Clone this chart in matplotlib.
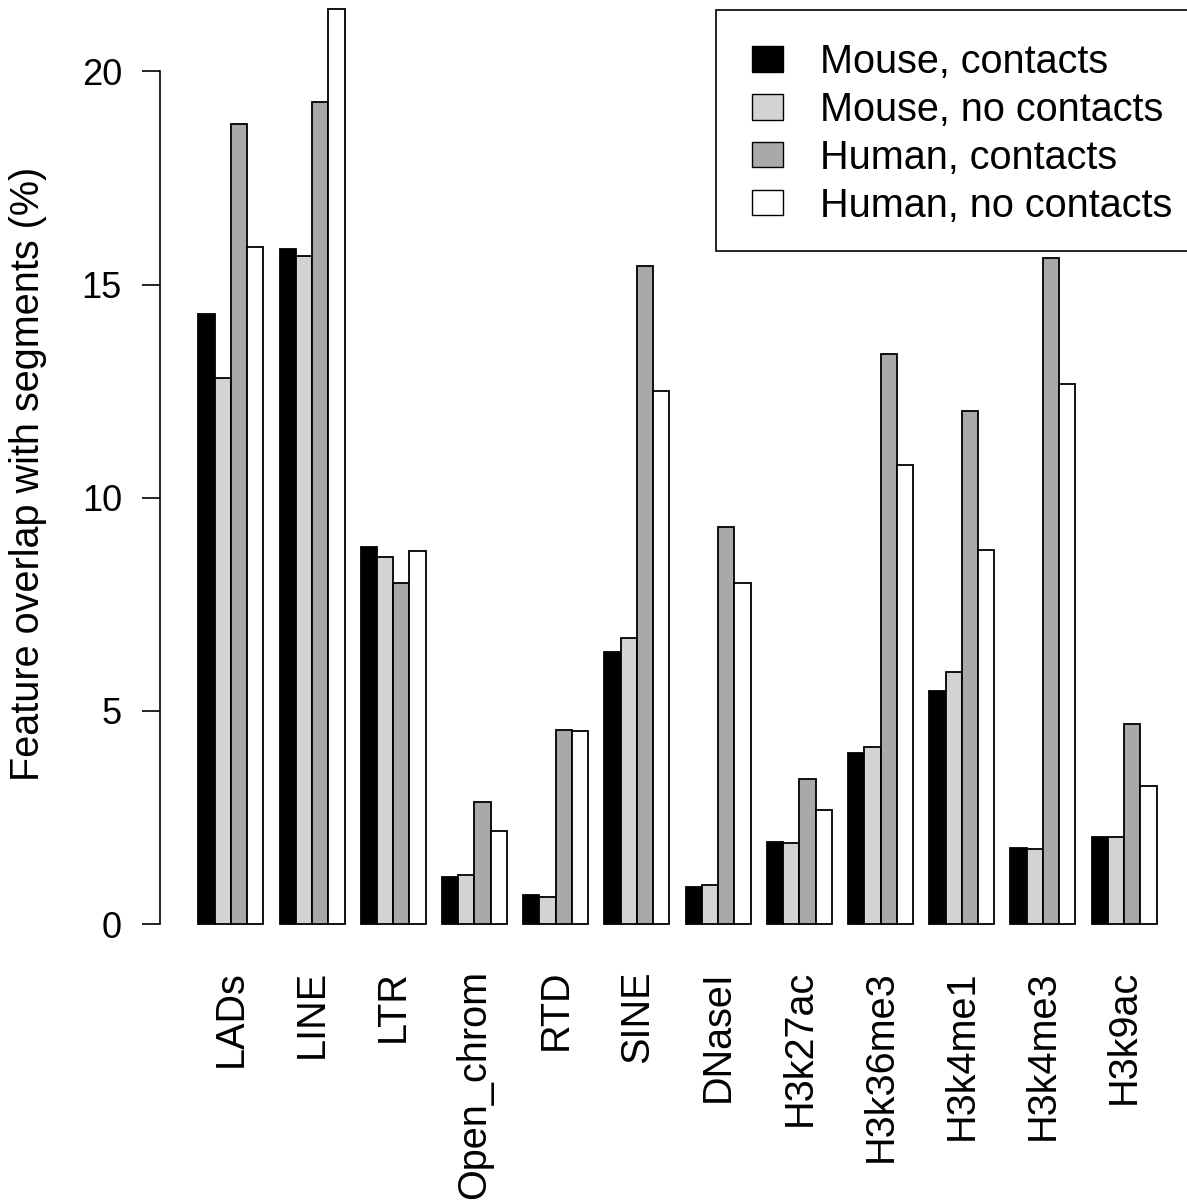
import matplotlib
matplotlib.use("Agg")
import matplotlib.pyplot as plt
from matplotlib.patches import Patch, Rectangle
import numpy as np

categories = ["LADs", "LINE", "LTR", "Open_chrom", "RTD", "SINE", "DNaseI",
              "H3k27ac", "H3k36me3", "H3k4me1", "H3k4me3", "H3k9ac"]
series_names = ["Mouse, contacts", "Mouse, no contacts",
                "Human, contacts", "Human, no contacts"]
mouse_contacts = [14.30, 15.84, 8.85, 1.10, 0.67, 6.37, 0.86, 1.93, 4.02, 5.47, 1.79, 2.03]
mouse_no_contacts = [12.82, 15.66, 8.61, 1.15, 0.64, 6.72, 0.91, 1.90, 4.15, 5.91, 1.76, 2.03]
human_contacts = [18.76, 19.29, 7.99, 2.86, 4.55, 15.43, 9.32, 3.41, 13.38, 12.04, 15.63, 4.69]
human_no_contacts = [15.88, 21.46, 8.76, 2.19, 4.53, 12.51, 8.01, 2.67, 10.77, 8.78, 12.66, 3.23]
series = [mouse_contacts, mouse_no_contacts, human_contacts, human_no_contacts]
colors = ["#000000", "#D3D3D3", "#A9A9A9", "#FFFFFF"]
yticks = [0, 5, 10, 15, 20]

W, H = 1187, 1202
DPI = 100
PX = 72.0 / DPI  # points per pixel
fig = plt.figure(figsize=(W / DPI, H / DPI), dpi=DPI)
plt.rcParams['font.family'] = ['Liberation Sans', 'DejaVu Sans']

TEXT_PT = 28.5
TICK_PT = 26

# R-like plot region in pixels
left_px, right_px = 160, 1195
top_px, bottom_px = -27.4, 960.6
ax = fig.add_axes([left_px / W, 1 - bottom_px / H,
                   (right_px - left_px) / W, (bottom_px - top_px) / H])

n = len(categories)
ymax = max(max(s) for s in series)
xl, xr = 1, 5 * n
ax.set_xlim(xl - 0.04 * (xr - xl), xr + 0.04 * (xr - xl))
ax.set_ylim(-0.04 * ymax, ymax * 1.04)

for j, (vals, col) in enumerate(zip(series, colors)):
    lefts = [1 + 5 * g + j for g in range(n)]
    ax.bar(lefts, vals, width=1, align='edge', color=col,
           edgecolor='black', linewidth=1.3, zorder=2)

for s in ['top', 'right', 'bottom']:
    ax.spines[s].set_visible(False)
ax.spines['left'].set_bounds(0, 20)
ax.spines['left'].set_linewidth(1.2)
ax.set_yticks(yticks)
ax.set_yticklabels([str(t) for t in yticks])
ax.tick_params(axis='y', length=18 * PX, width=1.2, pad=20 * PX, labelsize=TICK_PT)

centers = [3 + 5 * g for g in range(n)]
ax.set_xticks(centers)
ax.set_xticklabels(categories, rotation=90, fontsize=TEXT_PT)
ax.tick_params(axis='x', length=0, pad=(970 - bottom_px) * PX)

fig.text(28 / W, 1 - 474 / H, "Feature overlap with segments (%)",
         rotation=90, ha='center', va='center', fontsize=TEXT_PT)

# legend box (R style, extends to plot region edge)
fig.add_artist(Rectangle((716 / W, 1 - 251 / H), (right_px - 716) / W, (251 - 10) / H,
                         transform=fig.transFigure, facecolor='white',
                         edgecolor='black', linewidth=1.2, zorder=5))
fs_px = TEXT_PT / PX
handles = [Patch(facecolor=c, edgecolor='black', linewidth=1.0) for c in colors]
leg = fig.legend(handles, series_names, loc='upper left',
                 bbox_to_anchor=(752 / W, 1 - 43 / H), fontsize=TEXT_PT,
                 frameon=False, borderpad=0,
                 handlelength=31 / fs_px, handleheight=24 / fs_px,
                 handletextpad=37 / fs_px,
                 labelspacing=0.25, borderaxespad=0)
leg.set_zorder(6)

fig.savefig("out.png", dpi=DPI)
